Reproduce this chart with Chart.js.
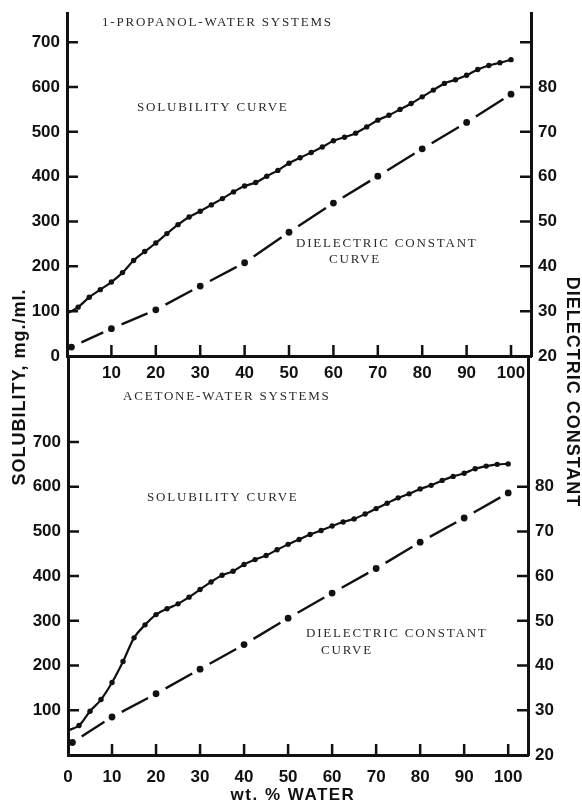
<!DOCTYPE html>
<html>
<head>
<meta charset="utf-8">
<script src="https://cdn.jsdelivr.net/npm/chart.js@4.4.0/dist/chart.umd.min.js"></script>
<style>
  html, body { margin: 0; padding: 0; background: #fff; }
  #wrap { position: relative; width: 582px; height: 804px; }
  #wrap canvas { position: absolute; left: 0; top: 0; }
</style>
</head>
<body>
<div id="wrap">
  <canvas id="chartTop" width="582" height="804"></canvas>
  <canvas id="chartBottom" width="582" height="804"></canvas>
</div>
<script>
// wt. % water for the solubility readings
const waterPct = [0, 2.5, 5, 7.5, 10, 12.5, 15, 17.5, 20, 22.5, 25, 27.5, 30, 32.5, 35, 37.5, 40,
  42.5, 45, 47.5, 50, 52.5, 55, 57.5, 60, 62.5, 65, 67.5, 70, 72.5, 75, 77.5, 80, 82.5, 85, 87.5,
  90, 92.5, 95, 97.5, 100];

// solubility, mg./ml.
const propanolSolubility = [95, 109, 131, 148, 165, 186, 213, 233, 252, 273, 293, 310, 323, 337,
  351, 366, 379, 387, 401, 414, 430, 442, 454, 466, 480, 488, 497, 511, 526, 537, 550, 563, 578,
  593, 608, 616, 626, 639, 648, 654, 661];
const acetoneSolubility = [55, 66, 98, 124, 162, 209, 262, 291, 314, 327, 338, 353, 370, 387, 402,
  411, 426, 437, 446, 459, 471, 482, 493, 502, 512, 521, 528, 539, 551, 563, 575, 584, 595, 603,
  614, 623, 630, 640, 646, 650, 651];

// dielectric constant readings
const dielectricWater = [1, 10, 20, 30, 40, 50, 60, 70, 80, 90, 100];
const propanolDielectric = [22.0, 26.1, 30.3, 35.6, 40.8, 47.6, 54.1, 60.1, 66.2, 72.1, 78.4];
const acetoneDielectric = [22.8, 28.5, 33.7, 39.2, 44.7, 50.6, 56.2, 61.7, 67.6, 73.0, 78.6];

// tick labels
const solLabelsTop = [0, 100, 200, 300, 400, 500, 600, 700];
const solLabelsBottom = [100, 200, 300, 400, 500, 600, 700];
const dielLabels = [20, 30, 40, 50, 60, 70, 80];
const waterLabelsTop = [10, 20, 30, 40, 50, 60, 70, 80, 90, 100];
const waterLabelsBottom = [0, 10, 20, 30, 40, 50, 60, 70, 80, 90, 100];

const ink = "#111";
const tickFont = { family: "'Liberation Sans', Arial, sans-serif", size: 17, weight: "bold" };

function points(xs, ys) {
  return xs.map((x, i) => ({ x: x, y: ys[i] }));
}

function dashLen(ctx) {
  const len = Math.hypot(ctx.p1.x - ctx.p0.x, ctx.p1.y - ctx.p0.y);
  return Math.max(len - 20, 4);
}

// one long dash between each pair of dots, with a gap on both sides
const dashSegment = {
  borderDash: (ctx) => [dashLen(ctx), 300],
  borderDashOffset: (ctx) => dashLen(ctx) + 300 - 11 + (ctx.p0DataIndex % 2) * 0.001,
};

const innerTicks = {
  id: "innerTicks",
  afterDraw(chart, args, opts) {
    const { ctx, chartArea: a, scales } = chart;
    ctx.save();
    ctx.strokeStyle = ink;
    ctx.lineWidth = 2.5;
    ctx.beginPath();
    opts.x.forEach((v) => {
      const px = scales.x.getPixelForValue(v);
      ctx.moveTo(px, a.bottom);
      ctx.lineTo(px, a.bottom - 11);
    });
    opts.y.forEach((v) => {
      const py = scales.y.getPixelForValue(v);
      ctx.moveTo(a.left, py);
      ctx.lineTo(a.left + 11, py);
    });
    opts.yR.forEach((v) => {
      const py = scales.yR.getPixelForValue(v);
      ctx.moveTo(a.right, py);
      ctx.lineTo(a.right - 11, py);
    });
    ctx.stroke();
    ctx.restore();
  },
};

const pageText = {
  id: "pageText",
  afterDraw(chart) {
    const ctx = chart.ctx;
    ctx.save();
    ctx.textBaseline = "middle";
    ctx.fillStyle = "#2a2a2a";
    ctx.font = "13px 'Liberation Serif', 'DejaVu Serif', serif";
    ctx.letterSpacing = "1.8px";
    ctx.textAlign = "left";
    ctx.fillText("1-PROPANOL-WATER SYSTEMS", 102, 23);
    ctx.fillText("SOLUBILITY CURVE", 137, 108);
    ctx.fillText("DIELECTRIC CONSTANT", 296, 244);
    ctx.fillText("CURVE", 329, 260);
    ctx.fillText("ACETONE-WATER SYSTEMS", 123, 397);
    ctx.fillText("SOLUBILITY CURVE", 147, 498);
    ctx.fillText("DIELECTRIC CONSTANT", 306, 634);
    ctx.fillText("CURVE", 321, 651);

    ctx.fillStyle = ink;
    ctx.textAlign = "center";
    ctx.font = "bold 17px 'Liberation Sans', Arial, sans-serif";
    ctx.letterSpacing = "1.5px";
    ctx.fillText("wt. % WATER", 293, 795);

    ctx.font = "bold 18px 'Liberation Sans', Arial, sans-serif";
    ctx.letterSpacing = "1px";
    ctx.save();
    ctx.translate(20, 387);
    ctx.rotate(-Math.PI / 2);
    ctx.fillText("SOLUBILITY, mg./ml.", 0, 0);
    ctx.restore();
    ctx.save();
    ctx.translate(572, 392);
    ctx.rotate(Math.PI / 2);
    ctx.fillText("DIELECTRIC CONSTANT", 0, 0);
    ctx.restore();
    ctx.restore();
  },
};

function fixedTicks(list) {
  return (scale) => {
    scale.ticks = list.map((v) => ({ value: v }));
  };
}

function axis(extra) {
  return Object.assign({
    type: "linear",
    grid: { display: false, drawTicks: false },
    border: { display: true, color: ink, width: 3 },
  }, extra);
}

function makeChart(id, cfg) {
  return new Chart(document.getElementById(id), {
    type: "line",
    data: {
      datasets: [
        {
          data: points(waterPct, cfg.solubility),
          yAxisID: "y",
          borderColor: ink,
          borderWidth: 2.2,
          pointRadius: (c) => (c.dataIndex === 0 ? 0 : 2.7),
          pointBackgroundColor: ink,
          pointBorderWidth: 0,
          cubicInterpolationMode: "monotone",
          fill: false,
        },
        {
          data: points(dielectricWater, cfg.dielectric),
          yAxisID: "yR",
          borderColor: ink,
          borderWidth: 2.4,
          pointRadius: 3.4,
          pointBackgroundColor: ink,
          pointBorderWidth: 0,
          tension: 0,
          fill: false,
          segment: dashSegment,
        },
      ],
    },
    options: {
      responsive: false,
      animation: false,
      devicePixelRatio: 1,
      events: [],
      layout: { padding: cfg.padding },
      plugins: {
        legend: { display: false },
        tooltip: { enabled: false },
        innerTicks: cfg.inner,
      },
      scales: {
        x: axis({
          min: 0,
          max: 104.5,
          afterBuildTicks: fixedTicks(cfg.xLabels),
          ticks: { font: tickFont, color: ink, padding: cfg.xPad, maxRotation: 0, autoSkip: false },
          afterFit: (s) => { s.height = cfg.xHeight; s.paddingLeft = 0; s.paddingRight = 0; },
        }),
        y: axis({
          position: "left",
          min: 0,
          max: cfg.yMax,
          afterBuildTicks: fixedTicks(cfg.yLabels),
          ticks: { font: tickFont, color: ink, padding: 7 },
          afterFit: (s) => { s.width = cfg.leftWidth; s.paddingTop = 0; s.paddingBottom = 0; },
        }),
        yR: axis({
          position: "right",
          min: 20,
          max: 20 + cfg.yMax / 10,
          afterBuildTicks: fixedTicks(dielLabels),
          ticks: { font: tickFont, color: ink, padding: 7 },
          afterFit: (s) => { s.width = cfg.rightWidth; s.paddingTop = 0; s.paddingBottom = 0; },
        }),
      },
    },
    plugins: cfg.text ? [innerTicks, pageText] : [innerTicks],
  });
}

makeChart("chartTop", {
  solubility: propanolSolubility,
  dielectric: propanolDielectric,
  padding: { top: 13, bottom: 414, left: 0, right: 0 },
  xLabels: waterLabelsTop,
  xPad: 7,
  xHeight: 34,
  yMax: 765,
  yLabels: solLabelsTop,
  leftWidth: 67,
  rightWidth: 51,
  inner: {
    x: [10, 20, 30, 40, 50, 60, 70, 80, 90, 100],
    y: [100, 200, 300, 400, 500, 600, 700],
    yR: [30, 40, 50, 60, 70, 80, 90],
  },
  text: false,
});

makeChart("chartBottom", {
  solubility: acetoneSolubility,
  dielectric: acetoneDielectric,
  padding: { top: 357, bottom: 0, left: 0, right: 0 },
  xLabels: waterLabelsBottom,
  xPad: 12,
  xHeight: 49,
  yMax: 890,
  yLabels: solLabelsBottom,
  leftWidth: 68,
  rightWidth: 54,
  inner: {
    x: [10, 20, 30, 40, 50, 60, 70, 80, 90, 100],
    y: [100, 200, 300, 400, 500, 600, 700],
    yR: [30, 40, 50, 60, 70, 80],
  },
  text: true,
});
</script>
</body>
</html>
